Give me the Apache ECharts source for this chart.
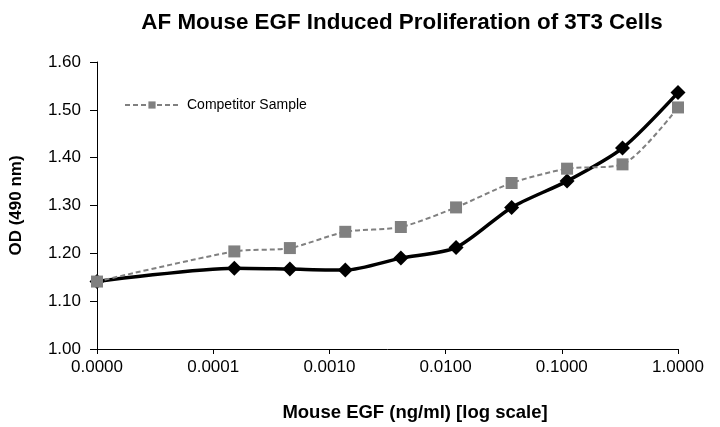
<!DOCTYPE html>
<html><head><meta charset="utf-8">
<script src="https://cdn.jsdelivr.net/npm/echarts@6/dist/echarts.min.js"></script>
<style>html,body{margin:0;padding:0;background:#fff}#c{width:720px;height:427px}</style>
</head><body><div id="c"></div>
<script>
// doses in ng/ml; the zero-dose point is drawn at the axis origin (1e-5)
var doses = [0.00001, 0.000152, 0.000457, 0.00137, 0.00412, 0.0123, 0.0370, 0.111, 0.333, 1.0];
var afValues = [1.141, 1.169, 1.167, 1.165, 1.190, 1.212, 1.296, 1.351, 1.420, 1.536];
var competitorValues = [1.141, 1.204, 1.211, 1.245, 1.255, 1.296, 1.347, 1.377, 1.386, 1.505];
var yTicks = [1.00, 1.10, 1.20, 1.30, 1.40, 1.50, 1.60];

function pairs(xs, ys){ return xs.map(function(x,i){ return [x, ys[i]]; }); }
var font = 'Liberation Sans, Arial, sans-serif';
var chart = echarts.init(document.getElementById('c'));
chart.setOption({
  animation: false,
  backgroundColor: '#fff',
  title: {
    text: 'AF Mouse EGF Induced Proliferation of 3T3 Cells',
    left: 397, top: 7, textAlign: 'center',
    textStyle: {fontFamily: font, fontSize: 22.4, fontWeight: 'bold', color: '#000'}
  },
  legend: {
    data: ['Competitor Sample'],
    left: 119, top: 93, itemWidth: 54, itemHeight: 9, itemGap: 8,
    textStyle: {fontFamily: font, fontSize: 14, color: '#000', padding: [0, 0, 0, 3]}
  },
  grid: {left: 95, right: 42, top: 62, bottom: 78, containLabel: false},
  xAxis: {
    type: 'log', logBase: 10, min: 0.00001, max: 1,
    name: 'Mouse EGF (ng/ml) [log scale]', nameLocation: 'middle', nameGap: 54,
    nameTextStyle: {fontFamily: font, fontSize: 18.5, fontWeight: 'bold', color: '#000', padding: [0, 0, 0, 55]},
    axisLine: {lineStyle: {color: '#000', width: 1}},
    axisTick: {show: true, inside: false, length: 5, lineStyle: {color: '#000'}},
    minorTick: {show: false},
    splitLine: {show: false},
    axisLabel: {
      fontFamily: font, fontSize: 17, color: '#000', margin: 10,
      formatter: function(v){ return v <= 0.000011 ? '0.0000' : v.toFixed(4); }
    }
  },
  yAxis: {
    type: 'value', min: yTicks[0], max: yTicks[yTicks.length-1], interval: 0.1,
    name: 'OD (490 nm)', nameLocation: 'middle', nameGap: 72, nameRotate: 90,
    nameTextStyle: {fontFamily: font, fontSize: 17, fontWeight: 'bold', color: '#000'},
    axisLine: {show: true, lineStyle: {color: '#000', width: 1}},
    axisTick: {show: true, inside: false, length: 7, lineStyle: {color: '#000'}},
    splitLine: {show: false},
    axisLabel: {fontFamily: font, fontSize: 17, color: '#000', margin: 16,
      formatter: function(v){ return v.toFixed(2); }}
  },
  series: [
    {
      name: 'AF Mouse EGF', type: 'line', smooth: 0.25,
      data: pairs(doses, afValues),
      symbol: 'diamond', symbolSize: 15,
      itemStyle: {color: '#000'},
      lineStyle: {color: '#000', width: 3.5},
      z: 2
    },
    {
      name: 'Competitor Sample', type: 'line', smooth: 0.25,
      data: pairs(doses, competitorValues),
      symbol: 'rect', symbolSize: 12,
      itemStyle: {color: '#808080'},
      lineStyle: {color: '#808080', width: 2, type: [5, 3]},
      z: 3
    }
  ]
});
</script></body></html>
